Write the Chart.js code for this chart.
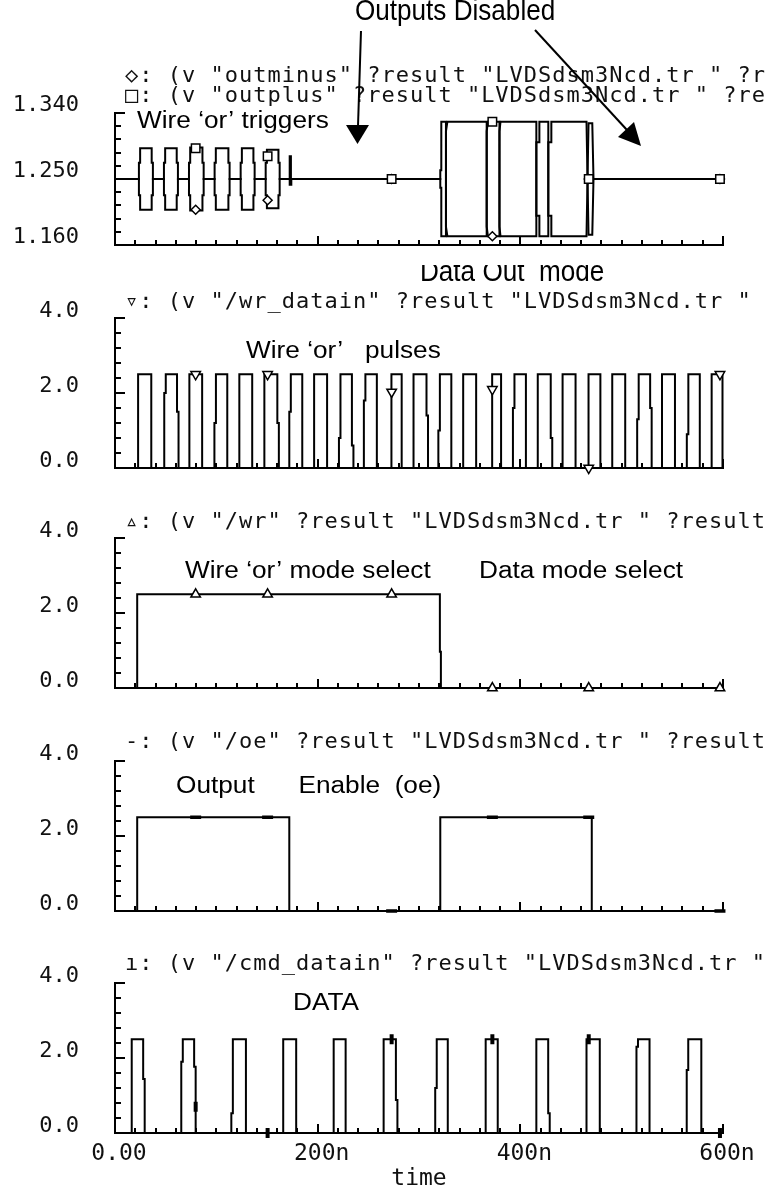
<!DOCTYPE html>
<html lang="en">
<head>
<meta charset="UTF-8" />
<title>LVDSdsm3Ncd transient</title>
<script src="https://cdn.jsdelivr.net/npm/chart.js"></script>
<style>
  html, body { margin: 0; padding: 0; background: #fff; }
  body { width: 779px; height: 1195px; position: relative; overflow: hidden; }
  canvas { position: absolute; left: 0; }
</style>
</head>
<body>
<canvas id="p1" width="779" height="265" style="top:0px"></canvas>
<canvas id="p2" width="779" height="220" style="top:265px"></canvas>
<canvas id="p3" width="779" height="221" style="top:485px"></canvas>
<canvas id="p4" width="779" height="222" style="top:706px"></canvas>
<canvas id="p5" width="779" height="267" style="top:928px"></canvas>

<script>
// ---- time axis (ns) ----
const timeTicks = [0, 200, 400, 600];
const timeLabels = ["0.00", "200n", "400n", "600n"];
// cadence puts the symbol markers at the same times on every trace
const markerTimes = [79.6, 150.6, 273.0, 372.4, 467.5, 597.0];

// ---- panel 1: outminus / outplus (V) ----
const outTicks = [1.16, 1.25, 1.34];
const outTickLabels = ["1.160", "1.250", "1.340"];
const burstOn = [23.6, 48.3, 73.0, 98.3, 124.0, 148.7];
const burstOff = [37.4, 62.1, 87.5, 113.1, 137.8, 162.5];
const plusBurstPeak = [1.292, 1.292, 1.293, 1.292, 1.292, 1.290];
const minusBurstPeak = [1.208, 1.208, 1.207, 1.208, 1.208, 1.210];
const plusBurstStep = 1.272;
const minusBurstStep = 1.228;
const plusBlip = [[172.4, 1.25], [172.4, 1.281], [173.6, 1.281], [173.6, 1.25]];
const minusBlip = [[172.4, 1.25], [172.4, 1.242], [174.0, 1.242], [174.0, 1.25]];
const plusDataOut = [
  [321.0, 1.25], [321.0, 1.262], [322.0, 1.262], [322.0, 1.328], [326.6, 1.328],
  [326.6, 1.185], [328.0, 1.172], [366.8, 1.172], [366.8, 1.315], [368.0, 1.328],
  [379.4, 1.328], [379.4, 1.185], [380.4, 1.172], [415.8, 1.172], [415.8, 1.300],
  [418.8, 1.300], [418.8, 1.328], [427.6, 1.328], [427.6, 1.200], [430.6, 1.200],
  [430.6, 1.172], [465.3, 1.172], [466.3, 1.25], [467.3, 1.326], [471.0, 1.326],
  [472.2, 1.25]
];
const minusDataOut = [
  [321.0, 1.25], [321.0, 1.238], [322.0, 1.238], [322.0, 1.172], [326.6, 1.172],
  [326.6, 1.315], [328.0, 1.328], [366.8, 1.328], [366.8, 1.185], [368.0, 1.172],
  [379.4, 1.172], [379.4, 1.315], [380.4, 1.328], [415.8, 1.328], [415.8, 1.200],
  [418.8, 1.200], [418.8, 1.172], [427.6, 1.172], [427.6, 1.300], [430.6, 1.300],
  [430.6, 1.328], [465.3, 1.328], [466.3, 1.25], [467.3, 1.174], [471.0, 1.174],
  [472.2, 1.25]
];
const plusMarkV = [1.292, 1.281, 1.25, 1.328, 1.25, 1.25];
const minusMarkV = [1.208, 1.221, 1.25, 1.172, 1.25, 1.25];

// ---- panels 2..5 (V) ----
const voltTicks = [0, 2, 4];
const voltTickLabels = ["0.0", "2.0", "4.0"];
const logicHigh = 2.5;

const wrDatainRise = [22.8, 48.6, 73.4, 98.1, 122.7, 147.4, 172.0, 196.5, 221.0, 245.6, 272.8, 294.6,
                      319.1, 343.6, 372.2, 392.7, 417.2, 441.7, 467.3, 490.7, 515.3, 539.8, 564.3, 588.8];
const wrDatainFall = [35.8, 61.2, 86.0, 110.8, 135.4, 160.2, 184.8, 209.3, 233.8, 258.4, 282.9, 307.4,
                      331.9, 356.4, 381.0, 405.5, 430.0, 454.5, 479.0, 503.5, 528.1, 552.6, 577.1, 599.5];
const wrDatainRiseStep = [null, 2.0, null, 1.2, null, null, 1.5, null, 0.8, 1.8, null, null,
                          1.0, null, null, 1.6, null, null, null, null, 1.3, null, 0.9, null];
const wrDatainFallStep = [null, 1.5, null, null, null, 1.2, null, null, 0.6, null, null, 1.4,
                          null, null, null, null, 0.8, null, null, null, 1.6, null, null, null];
const wrDatainMarkV = [2.5, 2.5, 2.03, 2.1, 0.0, 2.5];

const wrTrace = [[0, 0], [21.9, 0], [21.9, 2.5], [320.6, 2.5], [320.6, 0.97], [321.6, 0.97], [321.6, 0], [600, 0]];
const wrMarkV = [2.5, 2.5, 2.5, 0, 0, 0];

const oeTrace = [[0, 0], [21.9, 0], [21.9, 2.5], [172.0, 2.5], [172.0, 0], [321.0, 0], [321.0, 2.5],
                 [470.5, 2.5], [470.5, 0], [600, 0]];
const oeMarkV = [2.5, 2.5, 0, 2.5, 2.5, 0];

const cmdRise = [16.5, 65.4, 114.8, 166.0, 215.8, 265.1, 316.0, 365.8, 415.8, 465.3, 514.6, 564.2];
const cmdFall = [27.8, 78.1, 129.2, 178.8, 227.6, 277.2, 328.4, 377.7, 427.5, 478.4, 527.5, 578.6];
const cmdRiseStep = [null, 1.9, 0.53, null, null, null, 1.2, null, null, null, 2.3, 1.68];
const cmdFallStep = [1.44, 1.77, null, null, null, 0.88, null, null, 0.53, null, null, null];
const cmdMarkV = [0.7, 0, 2.5, 2.5, 2.5, 0];

// ---- helpers ----
const JOG = 1.5; // width of the little stair on sampled edges

function toXY(list) { return list.map(([x, y]) => ({ x, y })); }

function buildBursts(on, off, peak, step, base) {
  const out = [];
  on.forEach((t0, i) => {
    const t1 = off[i];
    out.push([t0, base], [t0, step], [t0 + 1.2, step], [t0 + 1.2, peak[i]],
             [t1 - 1.2, peak[i]], [t1 - 1.2, step], [t1, step], [t1, base]);
  });
  return out;
}

function buildPulses(rises, falls, hi, riseSteps, fallSteps) {
  const out = [[0, 0]];
  rises.forEach((r, i) => {
    const f = falls[i];
    const rs = riseSteps ? riseSteps[i] : null;
    const fs = fallSteps ? fallSteps[i] : null;
    out.push([r, 0]);
    if (rs != null) out.push([r, rs], [r + JOG, rs], [r + JOG, hi]);
    else out.push([r, hi]);
    if (fs != null) out.push([f, hi], [f, fs], [f + JOG, fs], [f + JOG, 0]);
    else out.push([f, hi], [f, 0]);
  });
  out.push([600, 0]);
  return out;
}

function trace(list) {
  return {
    data: toXY(list), showLine: true, borderColor: "#000", borderWidth: 2,
    pointRadius: 0, tension: 0, clip: false
  };
}

function markers(values, style) {
  return Object.assign({
    data: markerTimes.map((t, i) => ({ x: t, y: values[i] })),
    showLine: false, pointBackgroundColor: "#fff", pointBorderColor: "#000",
    pointBorderWidth: 1.5, clip: false
  }, style);
}

// short inward tick marks like the cadence plot frame
const inwardTicks = {
  id: "inwardTicks",
  afterDraw(chart) {
    const { ctx, chartArea: a, scales: { x, y } } = chart;
    ctx.save();
    ctx.strokeStyle = "#000";
    ctx.lineWidth = 2;
    ctx.beginPath();
    for (let t = 20; t <= 600; t += 20) {
      const px = Math.round(x.getPixelForValue(t));
      const len = t % 200 === 0 ? 9 : 5;
      ctx.moveTo(px, a.bottom);
      ctx.lineTo(px, a.bottom - len);
    }
    for (let i = 0; i <= 10; i++) {
      const v = y.min + (y.max - y.min) * i / 10;
      const py = Math.round(y.getPixelForValue(v));
      const len = i % 5 === 0 ? 10 : 6;
      ctx.moveTo(a.left, py);
      ctx.lineTo(a.left + len, py);
    }
    ctx.stroke();
    ctx.restore();
  }
};

// header lines, notes and arrows, positions given in page pixels
function textLayer(top, spec) {
  return {
    id: "textLayer",
    afterDraw(chart) {
      const ctx = chart.ctx;
      ctx.save();
      ctx.translate(0, -top);
      ctx.textAlign = "left";
      ctx.textBaseline = "alphabetic";
      (spec.headers || []).forEach(h => {
        ctx.font = '22px "DejaVu Sans Mono", monospace';
        ctx.letterSpacing = "1px";
        ctx.fillStyle = "#111";
        ctx.fillText(h.text, h.x, h.y);
        ctx.letterSpacing = "0px";
      });
      (spec.notes || []).forEach(n => {
        ctx.save();
        ctx.translate(n.x, n.y);
        ctx.scale(n.sx || 1.14, 1);
        ctx.font = (n.size || 23) + 'px "Liberation Sans", Arial, sans-serif';
        ctx.fillStyle = "#000";
        ctx.fillText(n.text, 0, 0);
        ctx.restore();
      });
      (spec.arrows || []).forEach(ar => {
        ctx.strokeStyle = "#000";
        ctx.fillStyle = "#000";
        ctx.lineWidth = 2;
        ctx.beginPath();
        ctx.moveTo(ar.from[0], ar.from[1]);
        ctx.lineTo(ar.to[0], ar.to[1]);
        ctx.stroke();
        ctx.beginPath();
        ctx.moveTo(ar.head[0][0], ar.head[0][1]);
        ctx.lineTo(ar.head[1][0], ar.head[1][1]);
        ctx.lineTo(ar.head[2][0], ar.head[2][1]);
        ctx.closePath();
        ctx.fill();
      });
      ctx.restore();
    }
  };
}

function makePanel(id, p) {
  const tickFont = { family: "DejaVu Sans Mono", size: 22 };
  return new Chart(document.getElementById(id), {
    type: "scatter",
    data: { datasets: p.datasets },
    options: {
      responsive: false,
      animation: false,
      devicePixelRatio: 1,
      events: [],
      layout: { padding: { top: p.padTop, right: 56, bottom: 0, left: 0 } },
      plugins: { legend: { display: false }, tooltip: { enabled: false }, title: { display: false } },
      scales: {
        x: {
          type: "linear", min: 0, max: 600,
          afterBuildTicks: s => { s.ticks = timeTicks.map(v => ({ value: v })); },
          ticks: {
            display: !!p.showTime, maxRotation: 0, autoSkip: false, padding: 7, labelOffset: 4,
            color: "#111", font: { family: "DejaVu Sans Mono", size: 23 },
            callback: (v, i) => timeLabels[i]
          },
          title: {
            display: !!p.showTime, text: "time", color: "#111",
            font: { family: "DejaVu Sans Mono", size: 23 }, padding: { top: 0, bottom: 2 }
          },
          grid: { drawOnChartArea: false, drawTicks: false },
          border: { display: true, color: "#000", width: 2 },
          afterFit: s => {
            s.height = p.xHeight;
            s.paddingLeft = 0; s.paddingRight = 0; s.paddingTop = 0; s.paddingBottom = 0;
          }
        },
        y: {
          type: "linear", min: p.yMin, max: p.yMax,
          afterBuildTicks: s => { s.ticks = p.yTicks.map(v => ({ value: v })); },
          ticks: {
            autoSkip: false, padding: 36, labelOffset: p.labelOffset, color: "#111", font: tickFont,
            callback: (v, i) => p.yLabels[i]
          },
          grid: { drawOnChartArea: false, drawTicks: false },
          border: { display: true, color: "#000", width: 2 },
          afterFit: s => {
            s.width = 115;
            s.paddingLeft = 0; s.paddingRight = 0; s.paddingTop = 0; s.paddingBottom = 0;
          }
        }
      }
    },
    plugins: [inwardTicks, textLayer(p.top, p.text)]
  });
}

// ---- panel 1 ----
const outplus = [[0, 1.25]].concat(
  buildBursts(burstOn, burstOff, plusBurstPeak, plusBurstStep, 1.25),
  plusBlip, plusDataOut, [[600, 1.25]]);
const outminus = [[0, 1.25]].concat(
  buildBursts(burstOn, burstOff, minusBurstPeak, minusBurstStep, 1.25),
  minusBlip, minusDataOut, [[600, 1.25]]);

makePanel("p1", {
  top: 0, padTop: 113, xHeight: 20, yMin: 1.16, yMax: 1.34,
  yTicks: outTicks, yLabels: outTickLabels, labelOffset: -8,
  datasets: [
    markers(plusMarkV, { pointStyle: "rect", pointRadius: 6 }),
    markers(minusMarkV, { pointStyle: "rectRot", pointRadius: 4.5 }),
    trace(outplus),
    trace(outminus)
  ],
  text: {
    headers: [
      { text: '◇: (v "outminus" ?result "LVDSdsm3Ncd.tr " ?r', x: 125, y: 82 },
      { text: '□: (v "outplus" ?result "LVDSdsm3Ncd.tr " ?re', x: 125, y: 102 }
    ],
    notes: [
      { text: "Outputs Disabled", x: 355, y: 20, size: 29, sx: 0.9 },
      { text: "Wire ‘or’ triggers", x: 137, y: 128 }
    ],
    arrows: [
      { from: [361, 31], to: [358, 126], head: [[346, 125], [369, 125], [357.5, 144]] },
      { from: [535, 30], to: [627, 130], head: [[618, 137], [634, 122], [641, 146]] }
    ]
  }
});

// ---- panel 2 ----
makePanel("p2", {
  top: 265, padTop: 53, xHeight: 17, yMin: 0, yMax: 4,
  yTicks: voltTicks, yLabels: voltTickLabels, labelOffset: -7,
  datasets: [
    markers(wrDatainMarkV, { pointStyle: "triangle", pointRotation: 180, pointRadius: 5.5 }),
    trace(buildPulses(wrDatainRise, wrDatainFall, logicHigh, wrDatainRiseStep, wrDatainFallStep))
  ],
  text: {
    headers: [{ text: '▿: (v "/wr_datain" ?result "LVDSdsm3Ncd.tr "', x: 125, y: 308 }],
    notes: [
      { text: "Data Out  mode", x: 420, y: 281, size: 29, sx: 0.9 },
      { text: "Wire ‘or’   pulses", x: 246, y: 358 }
    ]
  }
});

// ---- panel 3 ----
makePanel("p3", {
  top: 485, padTop: 53, xHeight: 18, yMin: 0, yMax: 4,
  yTicks: voltTicks, yLabels: voltTickLabels, labelOffset: -7,
  datasets: [
    markers(wrMarkV, { pointStyle: "triangle", pointRadius: 5.5 }),
    trace(wrTrace)
  ],
  text: {
    headers: [{ text: '▵: (v "/wr" ?result "LVDSdsm3Ncd.tr " ?result', x: 125, y: 528 }],
    notes: [
      { text: "Wire ‘or’ mode select", x: 185, y: 578 },
      { text: "Data mode select", x: 479, y: 578 }
    ]
  }
});

// ---- panel 4 ----
makePanel("p4", {
  top: 706, padTop: 55, xHeight: 17, yMin: 0, yMax: 4,
  yTicks: voltTicks, yLabels: voltTickLabels, labelOffset: -7,
  datasets: [
    markers(oeMarkV, { pointStyle: "line", pointRadius: 5.5, pointBorderWidth: 3.5 }),
    trace(oeTrace)
  ],
  text: {
    headers: [{ text: '-: (v "/oe" ?result "LVDSdsm3Ncd.tr " ?result', x: 125, y: 748 }],
    notes: [{ text: "Output      Enable  (oe)", x: 176, y: 793 }]
  }
});

// ---- panel 5 ----
makePanel("p5", {
  top: 928, padTop: 55, xHeight: 62, yMin: 0, yMax: 4, showTime: true,
  yTicks: voltTicks, yLabels: voltTickLabels, labelOffset: -7,
  datasets: [
    markers(cmdMarkV, { pointStyle: "line", pointRotation: 90, pointRadius: 5, pointBorderWidth: 4 }),
    trace(buildPulses(cmdRise, cmdFall, logicHigh, cmdRiseStep, cmdFallStep))
  ],
  text: {
    headers: [{ text: 'ı: (v "/cmd_datain" ?result "LVDSdsm3Ncd.tr "', x: 125, y: 970 }],
    notes: [{ text: "DATA", x: 293, y: 1010 }]
  }
});
</script>
</body>
</html>
